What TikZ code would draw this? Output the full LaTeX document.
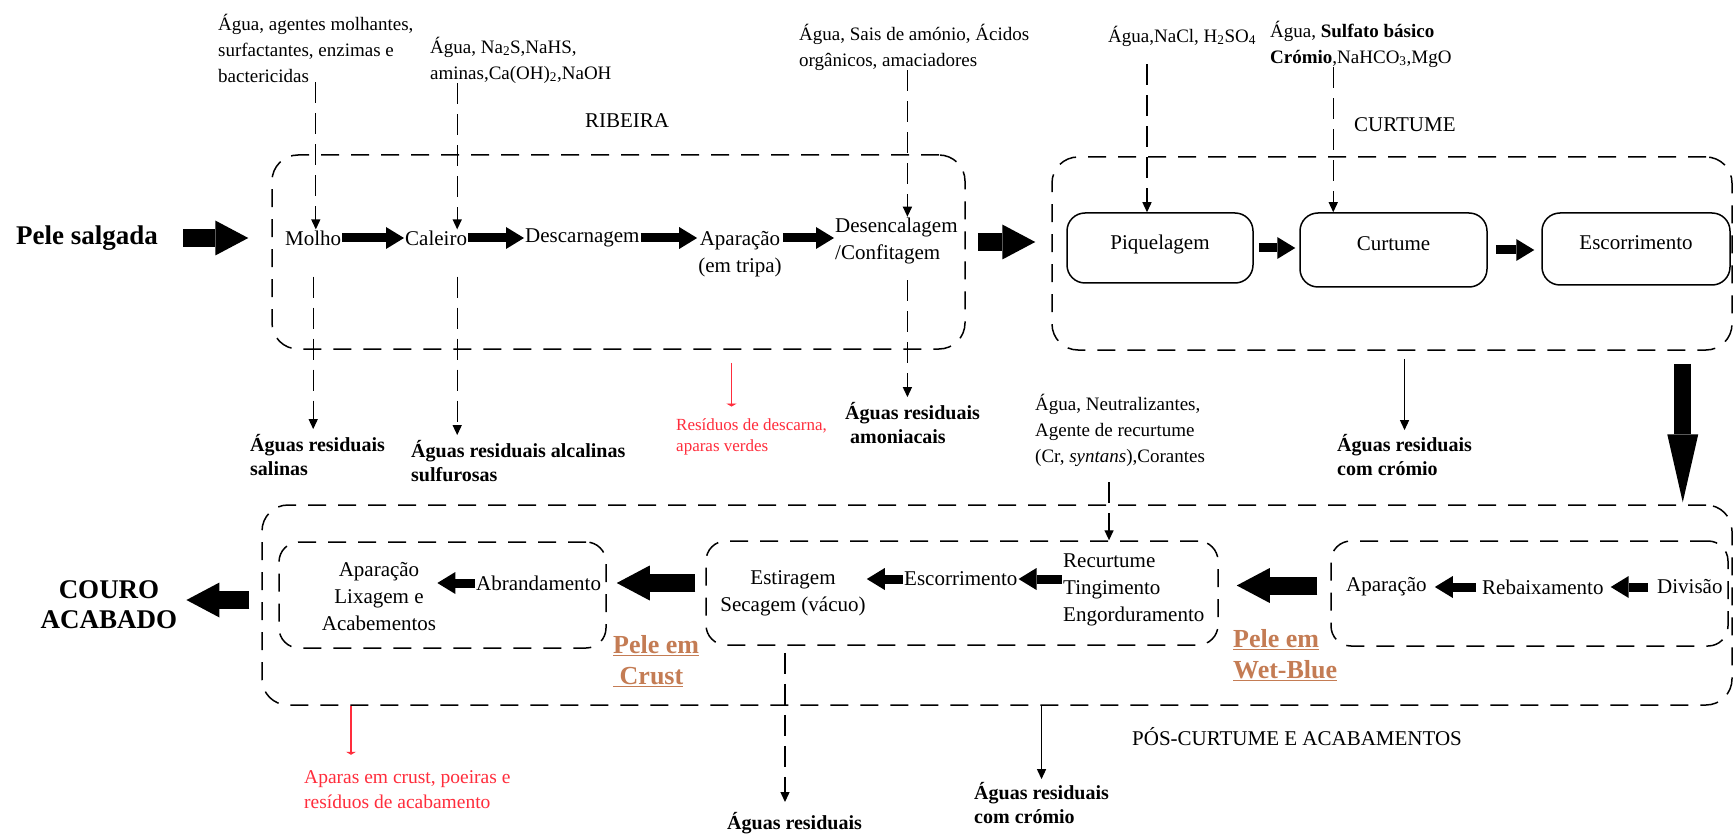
\documentclass[tikz,border=0pt]{standalone}
\usepackage{fontspec}
\setmainfont{Liberation Serif}
\usetikzlibrary{arrows.meta}
\definecolor{residred}{RGB}{255, 45, 60}
\definecolor{skinbrown}{RGB}{196, 124, 84}
\tikzset{
    phase/.style={rectangle, draw=black, line width=1.5pt, dash pattern=on 18pt off 12pt, rounded corners=26pt, inner sep=0pt},
    stepbox/.style={rectangle, draw=black, line width=1.5pt, rounded corners=18pt, font=\fontsize{21}{27}\selectfont, align=center, text depth=12pt},
    lbl/.style={inner sep=1pt, font=\fontsize{21}{27}\selectfont, align=center},
    chem/.style={inner sep=0pt, anchor=west, font=\fontsize{19}{26}\selectfont, align=left},
    waste/.style={inner sep=0pt, anchor=west, font=\bfseries\fontsize{20}{24}\selectfont, align=left},
    residue/.style={inner sep=0pt, anchor=west, text=residred, align=left},
    skin/.style={inner sep=0pt, anchor=west, text=skinbrown, font=\bfseries\fontsize{26}{31}\selectfont, align=left},
    bigarrow/.style={-{Triangle[length=33pt, width=35pt, line width=0pt]}, line width=18pt},
    smallarrow/.style={-{Triangle[length=18pt, width=22pt, line width=0pt]}, line width=9pt},
    dashflow/.style={-{Triangle[length=10pt, width=9pt]}, line width=1.3pt, dash pattern=on 21pt off 10pt},
    lineflow/.style={-{Triangle[length=10pt, width=9pt]}, line width=1.3pt},
    redflow/.style={-{Triangle[length=3pt, width=10pt]}, line width=1.3pt, residred}
}
\begin{document}
\begin{tikzpicture}[x=1pt, y=-1pt]
    \fill[white] (0,0) rectangle (1735,834);
    \useasboundingbox (0,0) rectangle (1735,834);

    \node (ribeira) [phase, minimum width=693pt, minimum height=194pt] at (618.5,252) {};
    \node (curtfase) [phase, minimum width=680pt, minimum height=193pt] at (1392,253.5) {};
    \node (posfase) [phase, minimum width=1470pt, minimum height=200pt] at (997,605) {};
    \node (blocoacab) [phase, rounded corners=20pt, minimum width=327pt, minimum height=106pt] at (442.5,595) {};
    \node (blocorec) [phase, rounded corners=20pt, minimum width=512pt, minimum height=104pt] at (962,593) {};
    \node (blocodiv) [phase, rounded corners=20pt, minimum width=397pt, minimum height=105pt] at (1529.5,593.5) {};

    \node (titribeira) [lbl] at (627,121) {RIBEIRA};
    \node (titcurt) [lbl, anchor=west] at (1353,125) {CURTUME};
    \node (titpos) [lbl, anchor=west] at (1131,737) {PÓS-CURTUME E ACABAMENTOS};

    \node (pele) [lbl, anchor=west, font=\bfseries\fontsize{27}{30}\selectfont] at (15,238) {Pele salgada};
    \node (couro) [lbl, font=\bfseries\fontsize{27}{30}\selectfont] at (109,605) {COURO\\ACABADO};

    \node (chem1) [chem] at (218,48) {Água, agentes molhantes,\\surfactantes, enzimas e\\bactericidas};
    \node (chem2) [chem] at (430,60) {Água, Na\textsubscript{2}S,NaHS,\\aminas,Ca(OH)\textsubscript{2},NaOH};
    \node (chem3) [chem] at (799,47) {Água, Sais de amónio, Ácidos\\orgânicos, amaciadores};
    \node (chem4) [chem] at (1108,36) {Água,NaCl, H\textsubscript{2}SO\textsubscript{4}};
    \node (chem5) [chem] at (1270,44) {Água, \textbf{Sulfato básico}\\\textbf{Crómio},NaHCO\textsubscript{3},MgO};
    \node (chem6) [chem] at (1035,430) {Água, Neutralizantes,\\Agente de recurtume\\(Cr, \textit{syntans}),Corantes};

    \node (molho) [lbl, anchor=west] at (284,238) {Molho};
    \node (caleiro) [lbl, anchor=west] at (404,238) {Caleiro};
    \node (descarn) [lbl, anchor=west] at (524,238) {Descarnagem};
    \node (aparacao) [lbl] at (740,254) {Aparação\\(em tripa)};
    \node (desenc) [lbl, anchor=west, align=left] at (834,241) {Desencalagem\\/Confitagem};

    \node (piquel) [stepbox, minimum width=186pt, minimum height=70pt] at (1160,248) {Piquelagem};
    \node (curtume) [stepbox, minimum width=187pt, minimum height=74pt] at (1393.5,250) {Curtume};
    \node (escorr) [stepbox, minimum width=188pt, minimum height=72pt] at (1636,249) {Escorrimento};

    \node (divisao) [lbl, anchor=west] at (1656,587) {Divisão};
    \node (rebaix) [lbl, anchor=west] at (1481,587) {Rebaixamento};
    \node (apar2) [lbl, anchor=west] at (1345,587) {Aparação};
    \node (recurt) [lbl, anchor=west, align=left] at (1062,590) {Recurtume\\Tingimento\\Engorduramento};
    \node (escorr2) [lbl, anchor=west] at (903,579) {Escorrimento};
    \node (estir) [lbl] at (793,593) {Estiragem\\Secagem (vácuo)};
    \node (abrand) [lbl, anchor=west] at (475,583) {Abrandamento};
    \node (acab) [lbl] at (379,597) {Aparação\\Lixagem e\\Acabementos};

    \node (crust) [skin] at (613,661) {\underline{Pele em}\\\underline{\ Crust}};
    \node (wetblue) [skin] at (1233,655) {\underline{Pele em}\\\underline{Wet-Blue}};

    \node (salinas) [waste] at (250,455) {Águas residuais\\salinas};
    \node (alcal) [waste] at (411,461) {Águas residuais alcalinas\\sulfurosas};
    \node (amon) [waste] at (845,423) {Águas residuais\\\ amoniacais};
    \node (crom1) [waste] at (1337,455) {Águas residuais\\com crómio};
    \node (crom2) [waste] at (974,803) {Águas residuais\\com crómio};
    \node (aguasfim) [waste] at (727,823) {Águas residuais};

    \node (residuo1) [residue, font=\fontsize{17}{21}\selectfont] at (676,437) {Resíduos de descarna,\\aparas verdes};
    \node (residuo2) [residue, font=\fontsize{19.5}{25}\selectfont] at (304,790) {Aparas em crust, poeiras e\\resíduos de acabamento};

    \coordinate (calx) at ([xshift=-11pt]caleiro.north east);
    \coordinate (desx) at ([xshift=11pt]desenc.north);
    \coordinate (piqx) at ([xshift=-13pt]piquel.north);
    \coordinate (curx) at ([xshift=34pt]curtume.north west);
    \coordinate (recx) at ([xshift=-11pt]chem6.south);
    \coordinate (estx) at ([xshift=-8pt]estir.south);
    \coordinate (res1x) at ([xshift=-20pt]residuo1.north);
    \coordinate (res2x) at ([xshift=47pt]residuo2.north west);
    \coordinate (descida) at ([xshift=-50pt]curtfase.south east);

    \draw [dashflow] (chem1.south) -- (chem1.south |- molho.north);
    \draw [dashflow] (calx |- chem2.south) -- (calx);
    \draw [dashflow] (desx |- chem3.south) -- (desx);
    \draw [dashflow, shorten <=18pt] (piqx |- chem4.south) -- (piqx);
    \draw [dashflow] (curx |- chem5.south) -- (curx);
    \draw [dashflow, shorten <=16pt] (recx) -- (recx |- blocorec.north);

    \draw [dashflow, shorten <=30pt, shorten >=5pt] (molho.south) -- (molho.south |- salinas.north);
    \draw [dashflow, shorten <=30pt, shorten >=5pt] (calx |- caleiro.south) -- (calx |- alcal.north);
    \draw [dashflow, shorten <=15pt, shorten >=5pt] (desx |- desenc.south) -- (desx |- amon.north);
    \draw [lineflow, shorten <=8pt, shorten >=4pt] (crom1.north |- curtfase.south) -- (crom1.north);
    \draw [dashflow, shorten <=7pt, shorten >=10pt] (estx |- blocorec.south) -- (estx |- aguasfim.north);
    \draw [lineflow, shorten >=3pt] (crom2.north |- posfase.south) -- (crom2.north);
    \draw [redflow, shorten <=13pt, shorten >=12pt] (res1x |- ribeira.south) -- (res1x);
    \draw [redflow, shorten >=16pt] (res2x |- posfase.south) -- (res2x);

    \draw [bigarrow, shorten <=24pt, shorten >=23pt] (pele.east) -- (pele.east -| ribeira.west);
    \draw [smallarrow] (molho) -- (caleiro);
    \draw [smallarrow] (caleiro) -- (descarn);
    \draw [smallarrow] (descarn.east) -- (descarn.east -| aparacao.west);
    \draw [smallarrow] (descarn.east -| aparacao.east) -- (descarn.east -| desenc.west);
    \draw [bigarrow, shorten <=12pt, shorten >=16pt] ([yshift=10pt]ribeira.east) -- ([yshift=10pt]ribeira.east -| curtfase.west);
    \draw [smallarrow, shorten <=5pt, shorten >=4pt] (piquel.east) -- (piquel.east -| curtume.west);
    \draw [smallarrow, shorten <=8pt, shorten >=7pt] (curtume.east) -- (curtume.east -| escorr.west);
    \draw [bigarrow, line width=17pt, -{Triangle[length=68pt, width=31pt, line width=0pt]}, shorten <=13pt, shorten >=2pt] (descida) -- (descida |- posfase.north);

    \draw [bigarrow, shorten <=13pt, shorten >=18pt] ([yshift=8pt]blocodiv.west) -- ([yshift=8pt]blocodiv.west -| blocorec.east);
    \draw [smallarrow, shorten <=8pt, shorten >=6pt] (divisao) -- (rebaix);
    \draw [smallarrow, shorten <=5pt, shorten >=7pt] (rebaix) -- (apar2);
    \draw [smallarrow] (escorr2.east -| recurt.west) -- (escorr2.east);
    \draw [smallarrow] (escorr2.west) -- (escorr2.west -| estir.east);
    \draw [bigarrow, shorten <=10pt, shorten >=10pt] ([yshift=10pt]blocorec.west) -- ([yshift=10pt]blocorec.west -| blocoacab.east);
    \draw [smallarrow] (abrand.west) -- (abrand.west -| acab.east);
    \draw [bigarrow, shorten <=12pt, shorten >=8pt] ([yshift=5pt]posfase.west) -- ([yshift=5pt]posfase.west -| couro.east);
\end{tikzpicture}
\end{document}
